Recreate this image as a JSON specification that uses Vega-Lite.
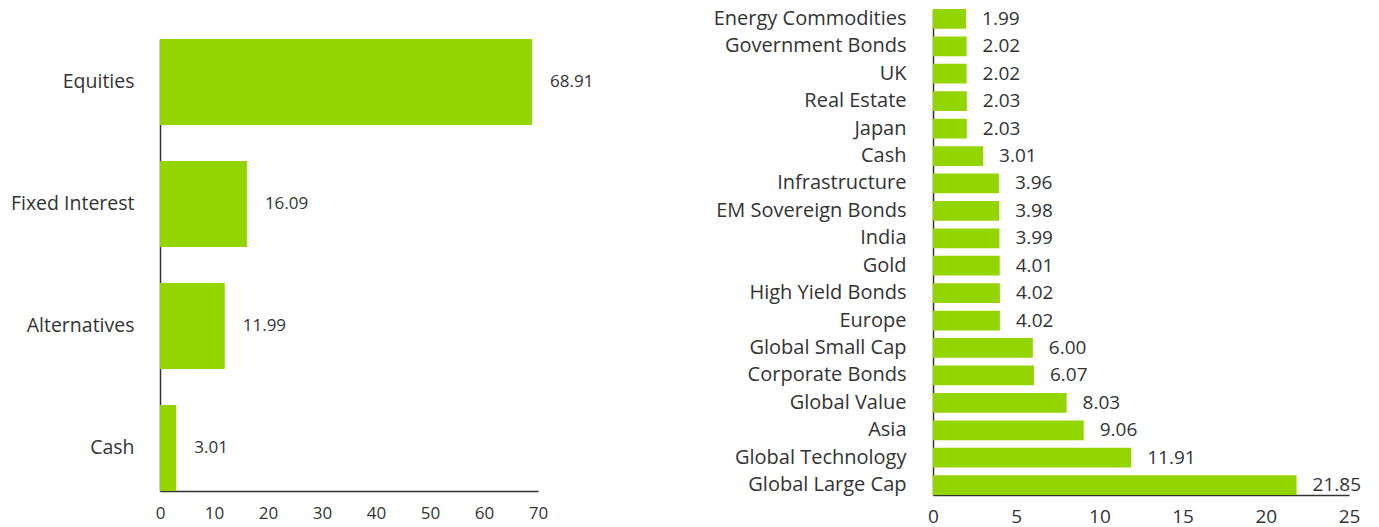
{
  "$schema": "https://vega.github.io/schema/vega-lite/v6.json",
  "background": "white",
  "padding": {"left": 10, "top": 8, "right": 5, "bottom": 5},
  "spacing": 119,
  "config": {
    "font": "Open Sans",
    "view": {"stroke": null},
    "axis": {"grid": false, "ticks": false, "tickSize": 0, "title": null, "labelColor": "#333333", "domainColor": "#333333", "domainWidth": 1.5, "labelLimit": 400, "labelFlush": false}
  },
  "hconcat": [
    {
      "spacing": 0,
      "vconcat": [
        {
          "width": 378,
          "height": 30,
          "data": {"values": [{"spacer": 1}]},
          "mark": {"type": "rect", "opacity": 0},
          "encoding": {}
        },
        {
          "width": 378,
          "height": 452,
          "data": {"values": [
            {"category": "Equities", "value": 68.91},
            {"category": "Fixed Interest", "value": 16.09},
            {"category": "Alternatives", "value": 11.99},
            {"category": "Cash", "value": 3.01}
          ]},
          "encoding": {
            "y": {"field": "category", "type": "nominal", "sort": null,
                  "scale": {"paddingInner": 0.295, "paddingOuter": 0},
                  "axis": {"labelFontSize": 19.5, "labelPadding": 26, "labelColor": "#333333"}},
            "x": {"field": "value", "type": "quantitative",
                  "scale": {"domain": [0, 70], "nice": false},
                  "axis": {"values": [0, 10, 20, 30, 40, 50, 60, 70], "labelFontSize": 17, "labelPadding": 14, "labelColor": "#333333"}}
          },
          "layer": [
            {"mark": {"type": "bar", "color": "#94d500"}},
            {"mark": {"type": "text", "align": "left", "baseline": "middle", "dx": 18, "fontSize": 17, "color": "#333333"},
             "encoding": {"text": {"field": "value", "type": "quantitative", "format": ".2f"}}}
          ]
        }
      ]
    },
    {
      "width": 416,
      "height": 486,
      "data": {"values": [
        {"category": "Energy Commodities", "value": 1.99},
        {"category": "Government Bonds", "value": 2.02},
        {"category": "UK", "value": 2.02},
        {"category": "Real Estate", "value": 2.03},
        {"category": "Japan", "value": 2.03},
        {"category": "Cash", "value": 3.01},
        {"category": "Infrastructure", "value": 3.96},
        {"category": "EM Sovereign Bonds", "value": 3.98},
        {"category": "India", "value": 3.99},
        {"category": "Gold", "value": 4.01},
        {"category": "High Yield Bonds", "value": 4.02},
        {"category": "Europe", "value": 4.02},
        {"category": "Global Small Cap", "value": 6.00},
        {"category": "Corporate Bonds", "value": 6.07},
        {"category": "Global Value", "value": 8.03},
        {"category": "Asia", "value": 9.06},
        {"category": "Global Technology", "value": 11.91},
        {"category": "Global Large Cap", "value": 21.85}
      ]},
      "encoding": {
        "y": {"field": "category", "type": "nominal", "sort": null,
              "scale": {"paddingInner": 0.28, "paddingOuter": 0},
              "axis": {"labelFontSize": 20, "labelPadding": 27, "labelColor": "#333333"}},
        "x": {"field": "value", "type": "quantitative",
              "scale": {"domain": [0, 25], "nice": false},
              "axis": {"values": [0, 5, 10, 15, 20, 25], "labelFontSize": 19, "labelPadding": 12, "labelColor": "#333333"}}
      },
      "layer": [
        {"mark": {"type": "bar", "color": "#94d500"}},
        {"mark": {"type": "text", "align": "left", "baseline": "middle", "dx": 16, "fontSize": 19, "color": "#333333"},
         "encoding": {"text": {"field": "value", "type": "quantitative", "format": ".2f"}}}
      ]
    }
  ]
}
